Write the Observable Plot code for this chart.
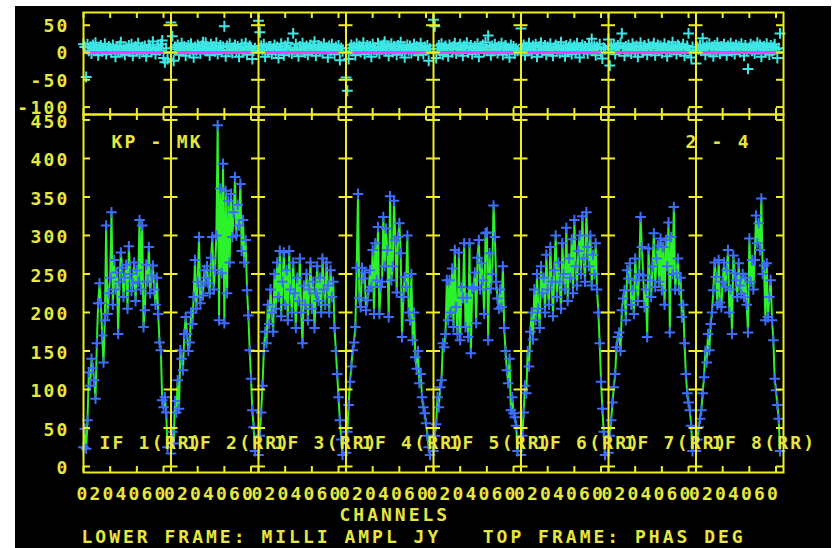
<!DOCTYPE html>
<html><head><meta charset="utf-8">
<script src="https://cdn.jsdelivr.net/npm/d3@7"></script>
<script src="https://cdn.jsdelivr.net/npm/@observablehq/plot@0.6"></script>
<style>
html,body{margin:0;padding:0;background:#fff;}
#wrap{position:relative;width:835px;height:548px;overflow:hidden;background:#fff;}
#bg{position:absolute;left:15px;top:6px;width:816px;height:542px;background:#000;}
#wrap svg{position:absolute;left:0;top:0;}
#wrap svg text{letter-spacing:2.2px;}
#wrap svg .wide text{letter-spacing:3px;}
</style></head>
<body><div id="wrap"><div id="bg"></div></div>
<script>
// ---- data ----
const ifNames = ["IF 1(RR)","IF 2(RR)","IF 3(RR)","IF 4(RR)","IF 5(RR)","IF 6(RR)","IF 7(RR)","IF 8(RR)"];
const channelTicks = [0, 20, 40, 60];
const ampTicks = [0, 50, 100, 150, 200, 250, 300, 350, 400, 450];
const phaseTicks = [50, 0, -50, -100];

const amp1 = [25,49,23,60,122,105,140,128,112,88,160,212,238,212,170,135,190,313,198,225,245,330,210,268,230,252,172,240,278,258,220,245,262,205,286,250,228,238,265,215,255,240,320,230,313,181,203,262,240,285,225,248,261,230,210,245,198,161,151,86,77,90,70,25];
const amp2 = [17,45,30,85,70,112,75,151,140,125,172,194,172,150,161,200,185,220,268,205,240,298,212,235,222,255,245,260,238,225,271,298,230,255,300,443,190,361,251,393,186,358,225,345,265,354,298,330,376,300,340,313,367,280,320,265,294,229,196,151,114,73,51,20];
const amp3 = [15,40,70,105,150,175,160,210,185,230,200,175,250,205,265,220,280,195,240,278,210,255,190,280,230,200,265,225,180,245,215,270,200,160,235,210,250,190,230,265,205,240,180,225,260,215,245,200,270,230,210,265,235,200,255,220,240,180,150,120,90,60,35,15];
const amp4 = [18,45,80,110,130,151,161,181,258,354,219,207,258,244,252,203,216,229,255,233,281,198,290,242,311,198,233,240,324,260,309,281,194,351,242,260,345,294,226,298,316,277,168,220,246,233,300,200,190,250,164,200,142,127,150,108,120,90,77,69,56,40,25,15];
const amp5 = [20,40,55,90,77,103,112,160,155,172,242,190,242,200,257,181,281,207,172,278,164,233,219,290,181,219,168,290,147,231,233,252,186,271,294,230,264,242,198,303,304,164,277,231,250,339,298,240,218,205,230,207,260,180,150,125,108,140,73,90,69,64,53,20];
const amp6 = [15,40,70,105,95,150,130,175,200,165,230,190,250,205,180,260,225,245,200,275,230,210,285,240,195,255,300,220,265,240,205,290,250,230,310,215,270,245,295,225,320,260,235,280,300,250,325,270,240,330,285,260,300,235,275,250,290,230,200,160,110,75,45,15];
const amp7 = [18,40,60,83,103,120,155,168,174,150,203,218,229,190,255,244,264,210,229,198,270,242,215,250,324,285,248,207,230,168,283,242,220,260,303,233,270,287,240,296,229,285,210,294,260,317,174,298,250,337,230,251,270,229,245,194,210,160,120,95,83,73,53,20];
const amp8 = [20,35,51,62,73,95,116,150,135,172,151,185,200,229,265,246,210,268,213,207,240,265,233,255,281,200,230,172,274,251,242,220,264,235,224,250,220,245,210,174,296,240,268,230,268,326,290,316,281,348,250,261,190,264,194,220,242,190,164,114,99,80,62,20];

const ph1 = [15,10,-45,15,3,10,-2,14,6,18,4,-5,9,13,2,7,16,-3,5,11,8,0,14,6,-8,10,3,12,19,1,7,-4,9,5,13,2,15,-6,8,11,4,17,-2,6,10,3,12,-7,5,14,9,1,20,6,-3,8,11,4,15,22,-10,-18,8,-12];
const ph2 = [55,30,-15,10,6,14,-4,9,17,3,11,-6,7,13,1,16,5,-9,10,4,14,8,-2,12,19,6,18,3,9,-5,15,7,11,2,18,-3,8,13,5,10,48,-7,12,4,16,6,-1,9,14,3,11,-8,7,15,2,10,17,-4,6,12,9,-12,4,8];
const ph3 = [58,37,12,5,15,-8,9,3,11,11,-3,7,14,2,10,-10,6,16,4,-5,12,8,18,1,9,-2,35,6,15,3,-7,11,5,17,8,0,12,-4,9,14,2,10,20,-6,7,13,4,11,-1,16,6,9,-9,12,3,15,7,-3,10,5,13,-14,8,2];
const ph4 = [-46,-70,-12,8,14,3,10,-5,16,6,12,1,9,18,-3,7,13,4,11,-8,15,5,9,2,17,-2,10,6,14,20,3,12,-6,8,16,1,11,5,-4,13,7,19,2,10,-9,6,14,4,12,-1,8,15,3,11,-5,9,17,6,-3,10,4,13,-15,7];
const ph5 = [60,48,-10,7,13,2,16,-4,9,12,5,-7,14,8,1,11,17,-2,6,10,15,3,-6,12,8,18,0,9,13,-3,6,11,4,16,-8,10,7,14,2,19,5,31,9,-5,12,3,15,8,-1,11,6,17,-4,10,13,2,8,-9,14,5,11,-2,7,3];
const ph6 = [44,8,14,-5,10,3,17,6,-2,12,9,15,-8,4,11,18,1,7,13,-4,10,5,16,2,-6,9,14,6,11,-1,19,4,8,-7,13,3,10,15,-3,7,12,1,17,5,-9,9,14,2,11,6,-2,16,8,25,4,12,-5,10,7,15,1,-11,9,6];
const ph7 = [24,-24,12,6,15,-3,9,13,2,17,35,8,-6,11,4,14,7,-2,16,10,3,12,-8,9,18,5,1,13,7,-4,15,10,2,11,17,-5,8,14,4,12,-1,9,16,6,-7,13,3,10,19,5,8,-3,14,11,2,9,15,-6,7,12,35,4,-9,10];
const ph8 = [-20,10,6,14,3,26,9,-4,12,7,16,1,10,-7,13,5,18,8,-2,11,4,15,9,-5,12,6,17,2,10,-3,14,7,11,1,16,8,-6,13,5,-30,9,15,3,12,-2,10,18,6,14,-8,7,11,4,16,9,-4,13,2,10,15,6,-10,8,35];

const amps = [amp1,amp2,amp3,amp4,amp5,amp6,amp7,amp8];
const phases = [ph1,ph2,ph3,ph4,ph5,ph6,ph7,ph8];

// ---- layout / style ----
const W = 65.6;                 // channel units per IF panel
const NP = 8;
const YEL = "#eeee22", TXT = "#e6e640", GREEN = "#2cf22c", BLUE = "#3d6dff", CYAN = "#3ee6e6", MAG = "#ff3cff";
const LEFT = 83, RIGHT = 52;
const pxX = (835 - LEFT - RIGHT) / (NP * W);

const rows = [];
amps.forEach((a, p) => a.forEach((v, c) => rows.push({p, c, x: p * W + c, amp: v, phase: phases[p][c]})));

const bounds = d3.range(1, NP).map(p => p * W);
const xTickPos = d3.range(NP).flatMap(p => channelTicks.map(t => p * W + t));

const font = {fontFamily: "DejaVu Sans Mono", fontSize: "18px", fontWeight: "bold", background: "transparent", overflow: "visible"};
const txt = {fill: TXT, lineAnchor: "middle"};

function frameTicks(yTicks, yMin, yMax, pxY) {
  const hl = 7 / pxX, vl = 6 / pxY;
  const h = [];
  yTicks.forEach(y => {
    bounds.forEach(b => h.push({y, x1: b - hl, x2: b + hl}));
    h.push({y, x1: 0, x2: 7 / pxX});
    h.push({y, x1: NP * W - 7 / pxX, x2: NP * W});
  });
  return [
    Plot.ruleY(h, {y: "y", x1: "x1", x2: "x2", stroke: YEL, strokeWidth: 2}),
    Plot.ruleX(xTickPos, {x: d => d, y1: yMax, y2: yMax - vl, stroke: YEL, strokeWidth: 2}),
    Plot.ruleX(xTickPos, {x: d => d, y1: yMin, y2: yMin + vl, stroke: YEL, strokeWidth: 2})
  ];
}

// ---- top frame: phase ----
const pMin = -113.6, pMax = 73.3;
const phasePlot = Plot.plot({
  width: 835, height: 548, marginLeft: LEFT, marginRight: RIGHT, marginTop: 12, marginBottom: 548 - 114,
  x: {domain: [0, NP * W], axis: null},
  y: {domain: [pMin, pMax], axis: null},
  style: font,
  marks: [
    Plot.dot(rows, {x: "x", y: "phase", symbol: "plus", r: 3.6, stroke: CYAN, strokeWidth: 2}),
    Plot.ruleY([0], {stroke: MAG, strokeWidth: 3}),
    Plot.frame({stroke: YEL, strokeWidth: 2}),
    Plot.ruleX(bounds, {x: d => d, stroke: YEL, strokeWidth: 2}),
    ...frameTicks(phaseTicks, pMin, pMax, 102 / (pMax - pMin)),
    Plot.text(phaseTicks, {y: d => d, text: d => String(d), frameAnchor: "left", dx: -14, dy: 1, textAnchor: "end", ...txt})
  ]
});

// ---- bottom frame: amplitude ----
const aMin = -7.8, aMax = 457.1;
const ampPlot = Plot.plot({
  width: 835, height: 548, marginLeft: LEFT, marginRight: RIGHT, marginTop: 114, marginBottom: 548 - 472,
  x: {domain: [0, NP * W], axis: null},
  y: {domain: [aMin, aMax], axis: null},
  style: font,
  marks: [
    Plot.line(rows, {x: "x", y: "amp", z: "p", stroke: GREEN, strokeWidth: 2}),
    Plot.dot(rows, {x: "x", y: "amp", symbol: "plus", r: 3.5, stroke: BLUE, strokeWidth: 2}),
    Plot.frame({stroke: YEL, strokeWidth: 2}),
    Plot.ruleX(bounds, {x: d => d, stroke: YEL, strokeWidth: 2}),
    ...frameTicks(ampTicks, aMin, aMax, 358 / (aMax - aMin)),
    Plot.text(ampTicks, {y: d => d, text: d => String(d), frameAnchor: "left", dx: -14, dy: 2, textAnchor: "end", ...txt}),
    Plot.text(d3.range(NP).flatMap(p => channelTicks.map((t, i) => ({p, t, col: [0, 1, 3, 5][i]}))), {
      x: d => d.p * W + (d.col * 13 - 7) / pxX, text: d => String(d.t),
      frameAnchor: "bottom", dy: 22, textAnchor: "start", ...txt}),
    Plot.text(ifNames, {x: (d, i) => i * W + 16 / pxX, text: d => d, frameAnchor: "bottom", dy: -29, textAnchor: "start", ...txt}),
    Plot.text(["KP - MK"], {text: d => d, frameAnchor: "top-left", dx: 28, dy: 28, textAnchor: "start", ...txt}),
    Plot.text(["2 - 4"], {text: d => d, frameAnchor: "top-left", dx: 602, dy: 28, textAnchor: "start", ...txt}),
    Plot.text(["CHANNELS"], {text: d => d, frameAnchor: "bottom-left", dx: 256, dy: 43, textAnchor: "start", className: "wide", ...txt}),
    Plot.text(["LOWER FRAME: MILLI AMPL JY   TOP FRAME: PHAS DEG"], {text: d => d, frameAnchor: "bottom-left", dx: -2, dy: 65, textAnchor: "start", className: "wide", ...txt})
  ]
});

const wrap = document.getElementById("wrap");
wrap.appendChild(ampPlot);
wrap.appendChild(phasePlot);
</script>
</body></html>
